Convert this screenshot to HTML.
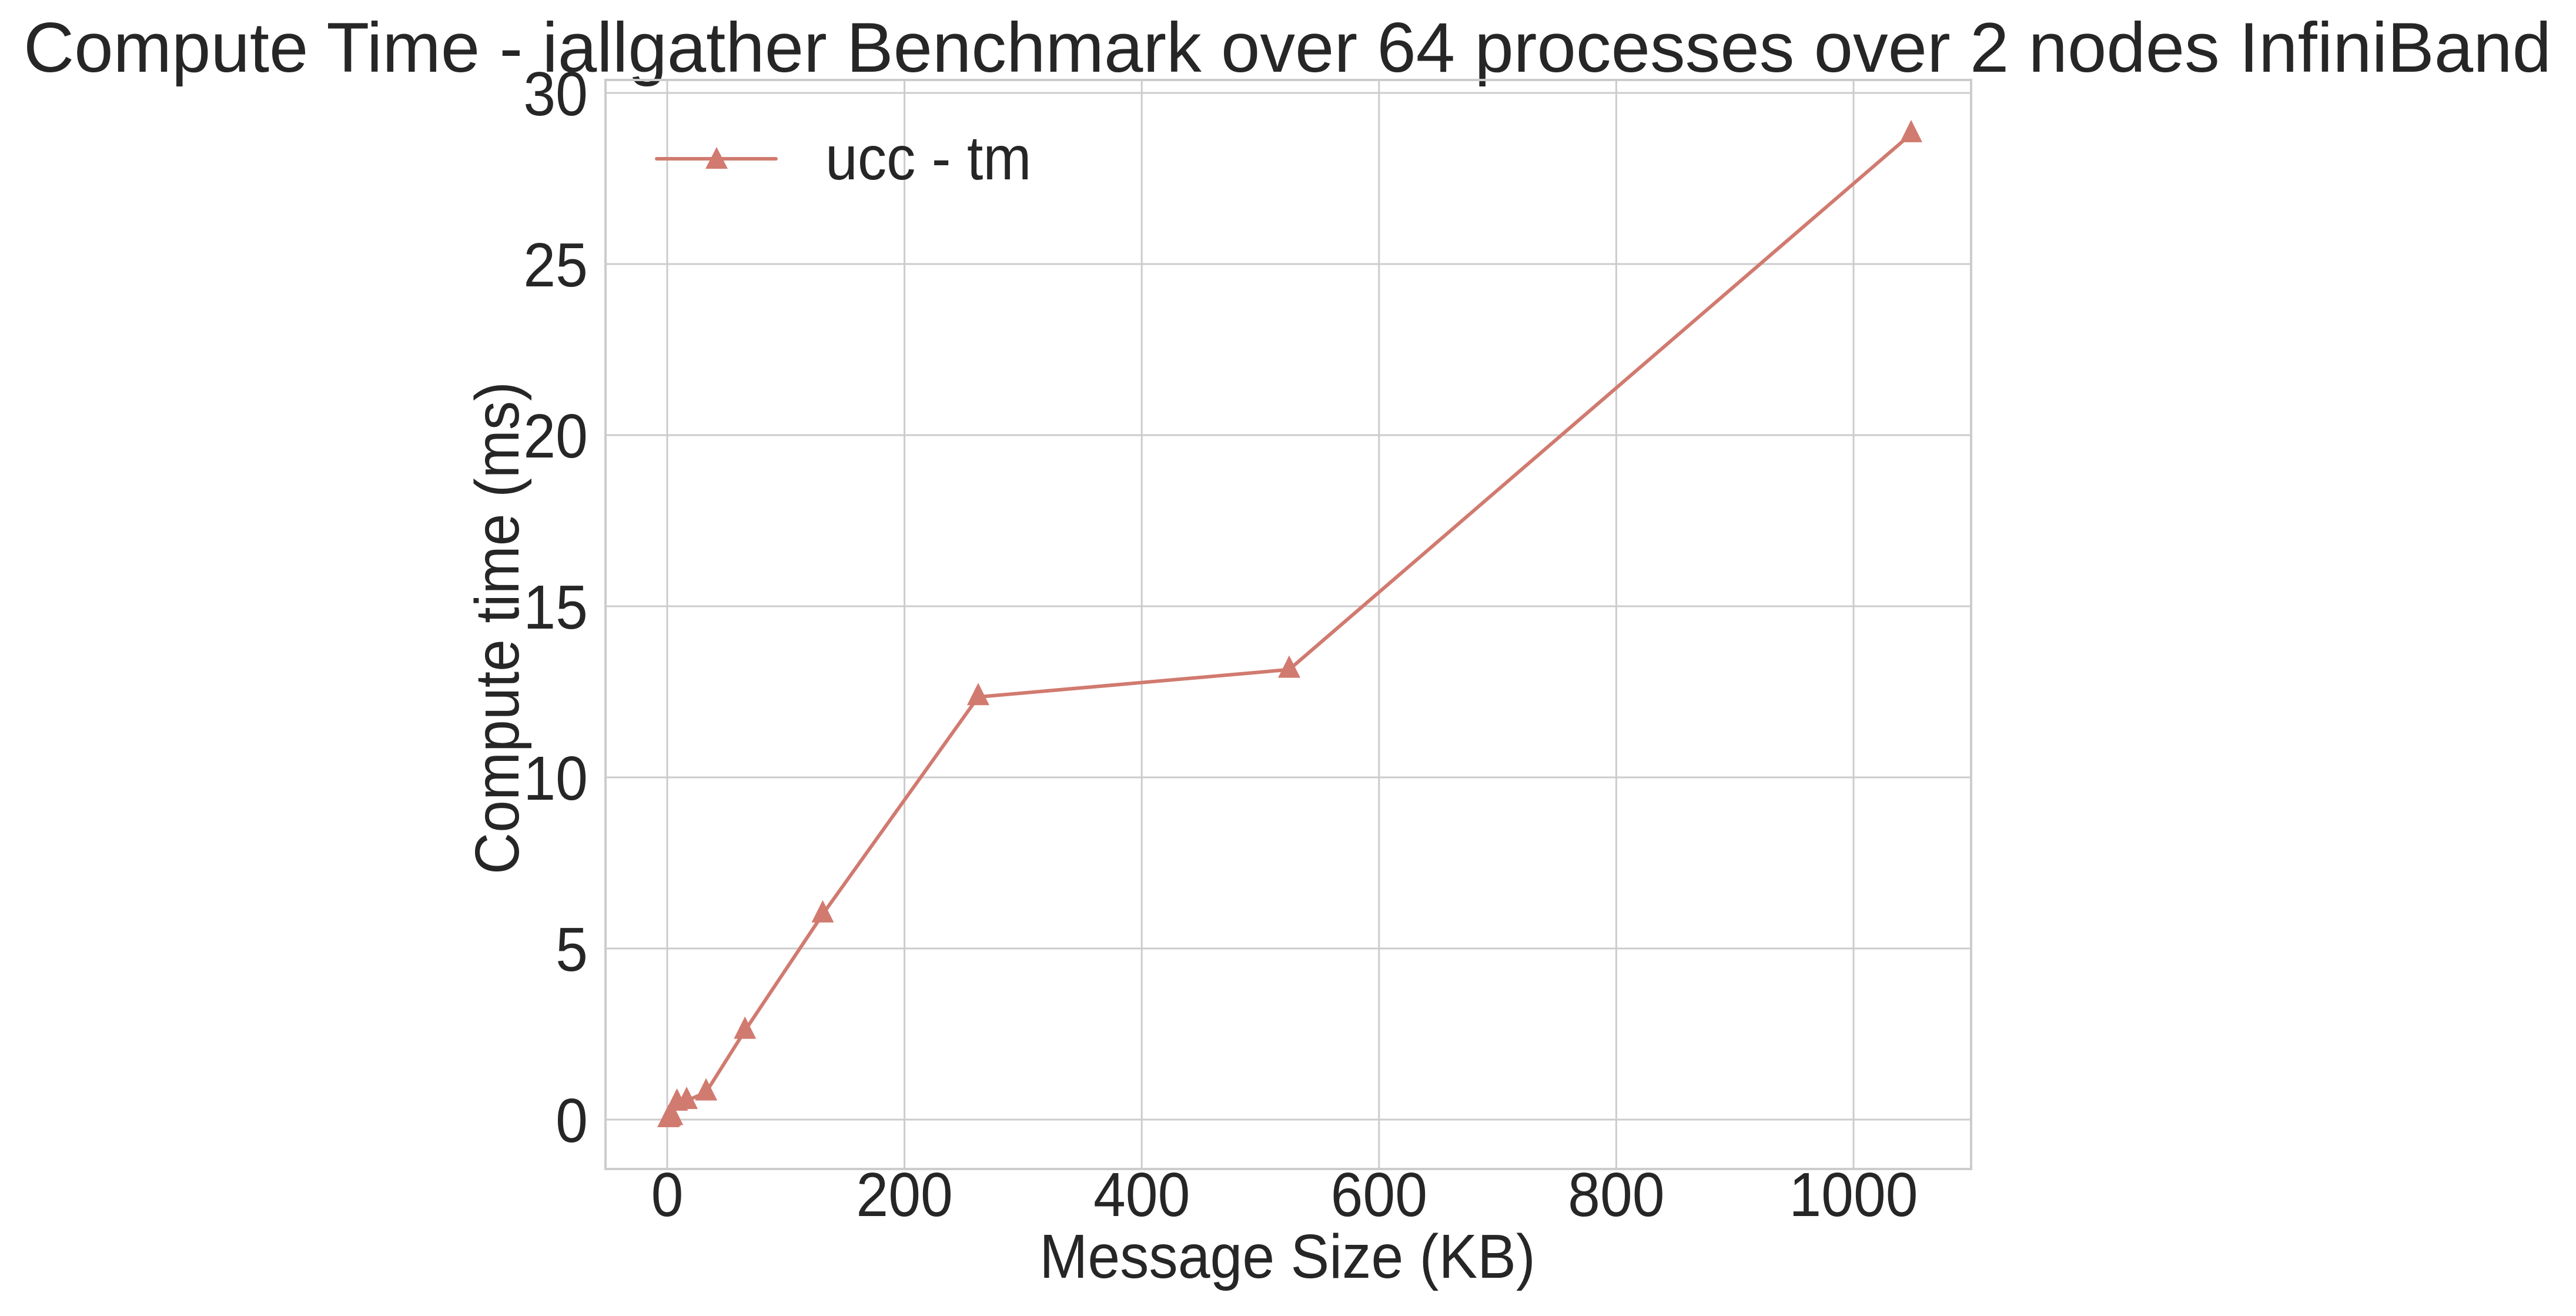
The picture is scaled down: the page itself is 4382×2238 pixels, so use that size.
<!DOCTYPE html>
<html><head><meta charset="utf-8"><style>
html,body{margin:0;padding:0;background:#fff}
svg{display:block;font-family:"Liberation Sans",Arial,sans-serif}
</style></head><body>
<svg id="chart" width="4382" height="2238" viewBox="0 0 4382 2238">
<text x="2190" y="122" font-size="120" fill="#262626" text-anchor="middle" textLength="4300" lengthAdjust="spacingAndGlyphs">Compute Time - iallgather Benchmark over 64 processes over 2 nodes InfiniBand</text>
<g id="grid"></g>
<rect x="1030" y="136" width="2323" height="1852" fill="none" stroke="#cccccc" stroke-width="4"/>
<g id="ticks"></g>
<g id="series"></g>
<text transform="translate(2190,2173) scale(0.93,1)" font-size="106" fill="#262626" text-anchor="middle">Message Size (KB)</text>
<text transform="translate(882,1068) rotate(-90) scale(0.93,1)" font-size="106" fill="#262626" text-anchor="middle">Compute time (ms)</text>
<g>
<line x1="1117" y1="270" x2="1320" y2="270" stroke="#d17a6f" stroke-width="6" stroke-linecap="round"/>
<polygon points="1219,250 1238,287 1200,287" fill="#d17a6f"/>
<text transform="translate(1404,305) scale(0.93,1)" font-size="106" fill="#262626">ucc - tm</text>
</g>
</svg>
<script>
const xValues = [1.024, 2.048, 4.096, 8.192, 16.384, 32.768, 65.536, 131.072, 262.144, 524.288, 1048.576];
const yValues = [0.02, 0.05, 0.08, 0.5, 0.55, 0.8, 2.6, 6.0, 12.35, 13.15, 28.8];
const xTicks = [0, 200, 400, 600, 800, 1000];
const yTicks = [0, 5, 10, 15, 20, 25, 30];
const NS = "http://www.w3.org/2000/svg";
function sx(v){ return 1135 + v * 2.018; }
function sy(v){ return 1904 - v * 58.2; }
function mk(tag, attrs){ const e = document.createElementNS(NS, tag); for (const k in attrs) e.setAttribute(k, attrs[k]); return e; }
const grid = document.getElementById('grid'), ticks = document.getElementById('ticks'), series = document.getElementById('series');
xTicks.forEach(t => {
  const l = mk('line', {x1: sx(t), x2: sx(t), y1: 136, y2: 1988, stroke: '#cccccc', 'stroke-width': 3});
  
  
  grid.appendChild(l);
  const tx = mk('text', {transform: `translate(${sx(t)},2068) scale(0.93,1)`, 'font-size': 106, fill: '#262626', 'text-anchor': 'middle'});
  tx.textContent = t;
  
  
  ticks.appendChild(tx);
});
yTicks.forEach(t => {
  const l = mk('line', {x1: 1030, x2: 3353, y1: sy(t), y2: sy(t), stroke: '#cccccc', 'stroke-width': 3});
  
  
  grid.appendChild(l);
  const tx = mk('text', {transform: `translate(1000,${sy(t) + 38}) scale(0.93,1)`, 'font-size': 106, fill: '#262626', 'text-anchor': 'end'});
  tx.textContent = t;
  
  
  ticks.appendChild(tx);
});
const pts = xValues.map((x, i) => sx(x) + ',' + sy(yValues[i])).join(' ');
const line = mk('polyline', {points: pts, fill: 'none', stroke: '#d17a6f', 'stroke-width': 6, 'stroke-linejoin': 'round'});


series.appendChild(line);
xValues.forEach((x, i) => {
  const cx = sx(x), cy = sy(yValues[i]);
  const p = mk('polygon', {points: `${cx},${cy-24} ${cx+19},${cy+14} ${cx-19},${cy+14}`, fill: '#d17a6f'});
  
  
  series.appendChild(p);
});
</script>
</body></html>
